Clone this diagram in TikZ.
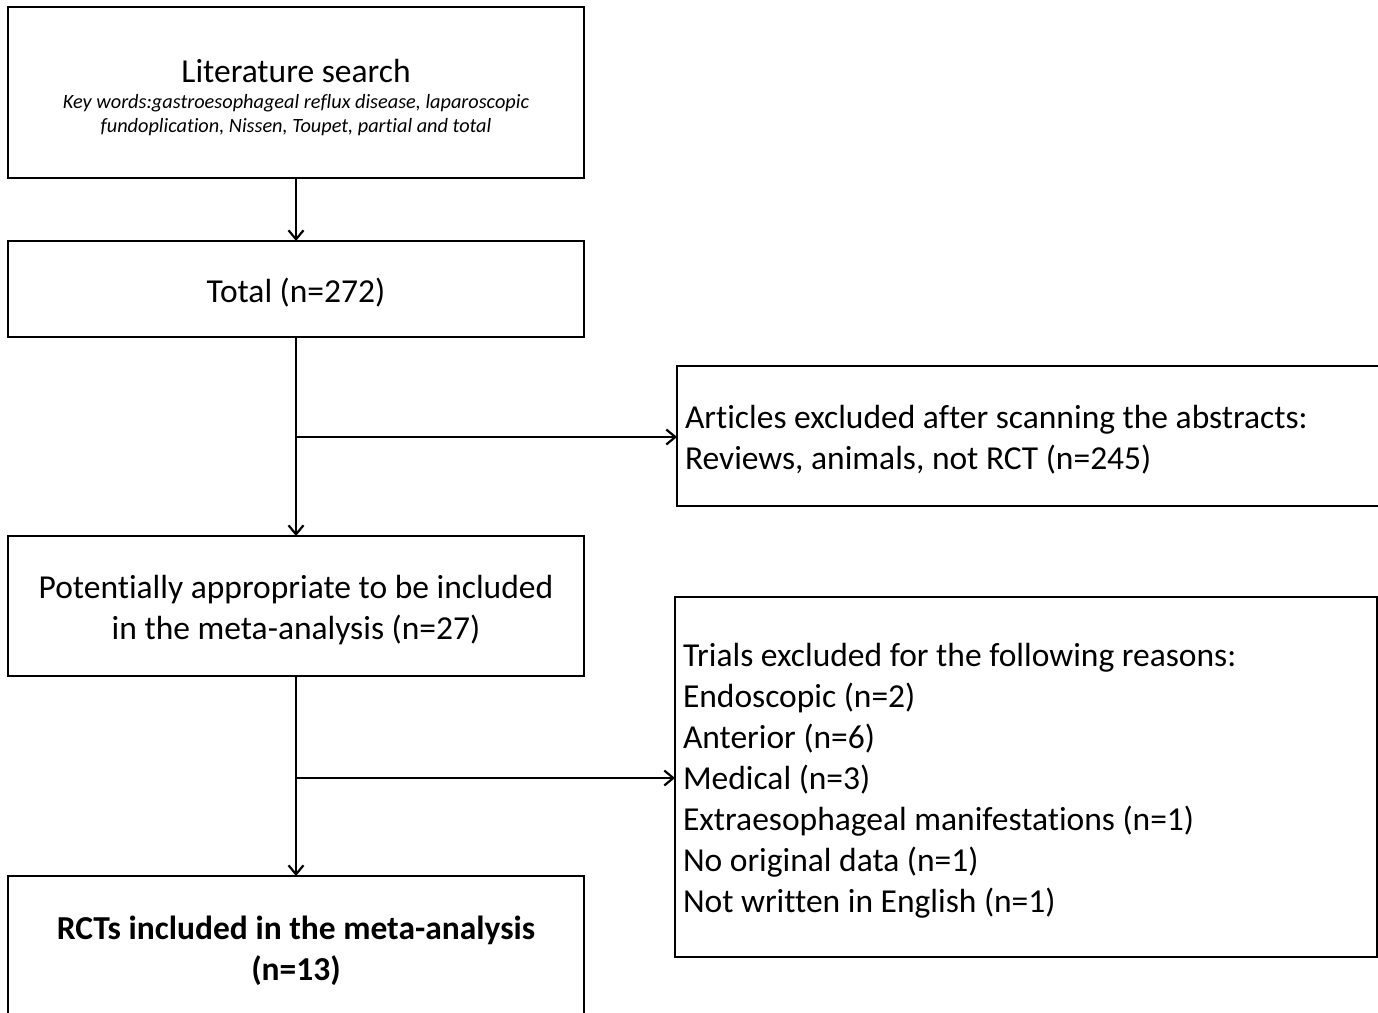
\documentclass[tikz,border=0pt]{standalone}
\usepackage{fontspec}
\setmainfont[Ligatures=NoCommon]{Carlito}
\usetikzlibrary{arrows.meta}
\begin{document}
\begin{tikzpicture}[x=1pt,y=-1pt,
  box/.style={draw=black, line width=1.6pt, inner sep=0pt, outer sep=0pt, fill=white},
  big/.style={font=\fontsize{33.5}{41}\selectfont},
  small/.style={font=\fontsize{20.3}{24}\selectfont\itshape},
  arr/.style={line width=2.2pt, -{Straight Barb[length=9pt,width=15pt,line width=2.2pt]}}]
\useasboundingbox (0,0) rectangle (1378,1012);
\clip (0,0) rectangle (1378,1012);
\fill[white] (0,0) rectangle (1378,1012);
% boxes
\node[box, minimum width=576pt, minimum height=171pt] (b1) at (296,92.5) {};
\node[big, anchor=center] (t1) at (296,71) {Literature search};
\node[small, align=center, anchor=center] (k1) at (296,115) {Key words:gastroesophageal reflux disease, laparoscopic\\fundoplication, Nissen, Toupet, partial and total};
\node[box, big, minimum width=576pt, minimum height=96pt] (b2) at (296,289) {\rule{0pt}{31pt}Total (n=272)};
\node[box, big, align=flush left, text width=690pt, inner xsep=8pt, minimum height=140pt] (b3) at (1030,436) {\rule{0pt}{31pt}Articles excluded after scanning the abstracts:\\Reviews, animals, not RCT (n=245)};
\node[box, big, align=center, minimum width=576pt, minimum height=140pt] (b4) at (296,606) {\rule{0pt}{31pt}Potentially appropriate to be included\\in the meta-analysis (n=27)};
\node[box, big, align=flush left, text width=686pt, inner xsep=8pt, minimum height=360pt] (b5) at (1026,777) {\rule{0pt}{31pt}Trials excluded for the following reasons:\\Endoscopic (n=2)\\Anterior (n=6)\\Medical (n=3)\\Extraesophageal manifestations (n=1)\\No original data (n=1)\\Not written in English (n=1)};
\node[box, align=center, font=\fontsize{33.5}{41}\selectfont\bfseries, minimum width=576pt, minimum height=142pt] (b6) at (296,947) {\rule{0pt}{31pt}RCTs included in the meta-analysis\\(n=13)};
% connectors
\draw[arr] (b1.south) -- (b2.north);
\draw[arr] (b2.south) -- (b4.north);
\coordinate (j1) at (296,437);
\draw[arr] (j1) -- (j1 -| b3.west);
\draw[arr] (b4.south) -- (b6.north);
\coordinate (j2) at (296,778);
\draw[arr] (j2) -- (j2 -| b5.west);
\end{tikzpicture}
\end{document}
